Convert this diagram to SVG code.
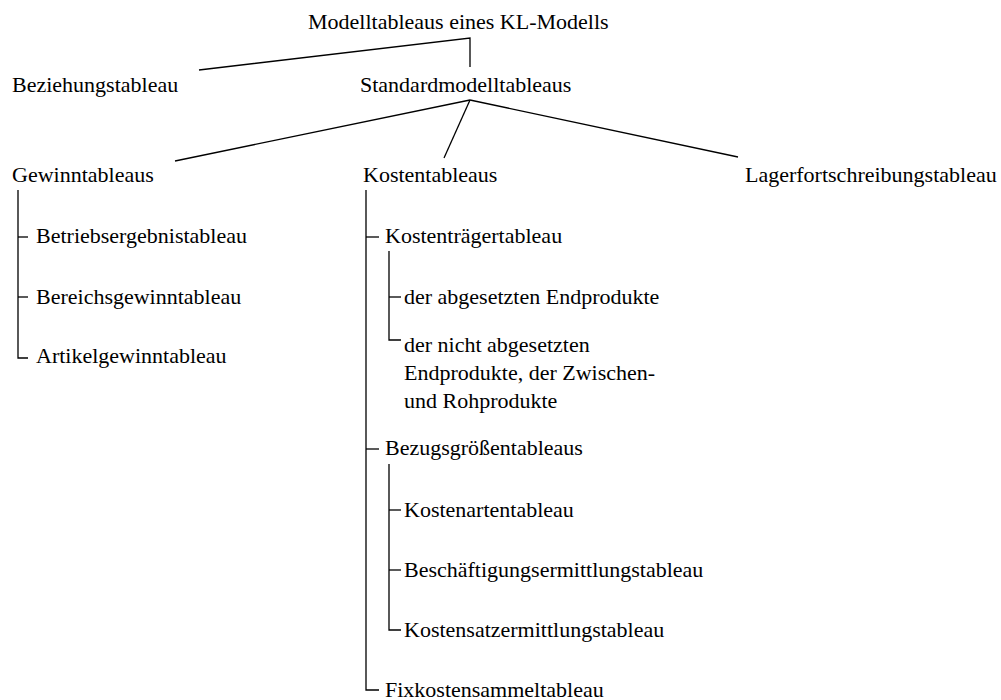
<svg xmlns="http://www.w3.org/2000/svg" width="1001" height="700" viewBox="0 0 1001 700">
  <style>
    text { font-family: "Liberation Serif", "Times New Roman", serif; font-size: 22px; fill: #000; }
    .conn line, .conn polyline { stroke: #000; stroke-width: 1.3; fill: none; }
  </style>
  <rect width="1001" height="700" fill="#fff"/>
  <g class="conn">
    <!-- top level -->
    <polyline points="199,70 470,38 470,67"/>
    <line x1="470" y1="100" x2="175" y2="161"/>
    <line x1="470" y1="100" x2="444" y2="158"/>
    <line x1="470" y1="100" x2="738" y2="157"/>
    <!-- Gewinntableaus branch -->
    <polyline points="18,190 18,358 28,358"/>
    <line x1="18" y1="237" x2="28" y2="237"/>
    <line x1="18" y1="297" x2="28" y2="297"/>
    <!-- Kostentableaus branch -->
    <polyline points="366,190 366,690 379,690"/>
    <line x1="366" y1="237" x2="379" y2="237"/>
    <line x1="366" y1="449" x2="379" y2="449"/>
    <!-- Kostenträgertableau branch -->
    <polyline points="389,251 389,340 401,340"/>
    <line x1="389" y1="297" x2="401" y2="297"/>
    <!-- Bezugsgrößentableaus branch -->
    <polyline points="389,464 389,630 401,630"/>
    <line x1="389" y1="510" x2="401" y2="510"/>
    <line x1="389" y1="570" x2="401" y2="570"/>
  </g>
  <g id="root"><text x="308" y="29">Modelltableaus eines KL-Modells</text></g>
  <g id="beziehung"><text x="12" y="92">Beziehungstableau</text></g>
  <g id="standard"><text x="360" y="92">Standardmodelltableaus</text></g>
  <g id="gewinn"><text x="12" y="182">Gewinntableaus</text></g>
  <g id="kosten"><text x="363" y="182">Kostentableaus</text></g>
  <g id="lager"><text x="745" y="182">Lagerfortschreibungstableau</text></g>
  <g id="betrieb"><text x="36" y="243">Betriebsergebnistableau</text></g>
  <g id="bereich"><text x="36" y="304">Bereichsgewinntableau</text></g>
  <g id="artikel"><text x="36" y="363">Artikelgewinntableau</text></g>
  <g id="kostentraeger"><text x="385" y="243">Kostenträgertableau</text></g>
  <g id="abgesetzt"><text x="404" y="304">der abgesetzten Endprodukte</text></g>
  <g id="nichtabgesetzt">
    <text x="404" y="352">der nicht abgesetzten</text>
    <text x="404" y="380">Endprodukte, der Zwischen-</text>
    <text x="404" y="408">und Rohprodukte</text>
  </g>
  <g id="bezugsgroessen"><text x="385" y="455">Bezugsgrößentableaus</text></g>
  <g id="kostenarten"><text x="404" y="517">Kostenartentableau</text></g>
  <g id="beschaeftigung"><text x="404" y="577">Beschäftigungsermittlungstableau</text></g>
  <g id="kostensatz"><text x="404" y="637">Kostensatzermittlungstableau</text></g>
  <g id="fixkosten"><text x="385" y="697">Fixkostensammeltableau</text></g>
</svg>
